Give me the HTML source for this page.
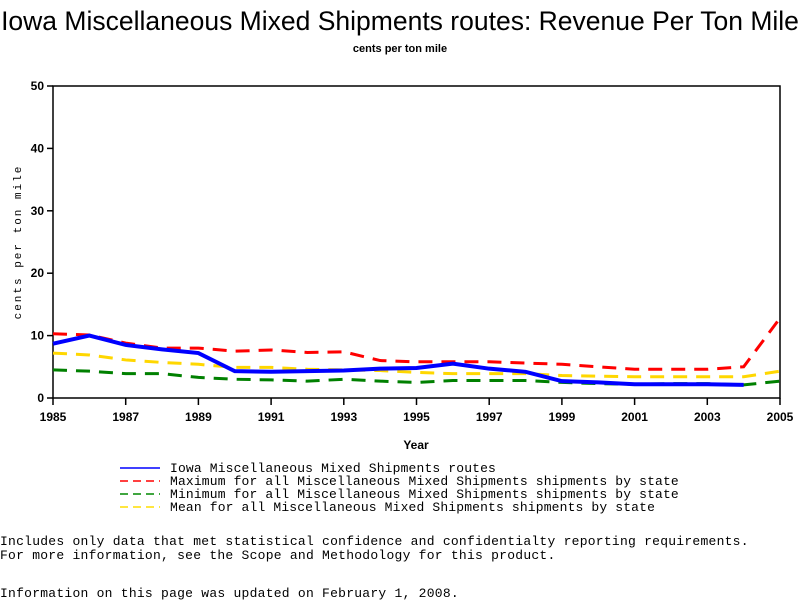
<!DOCTYPE html>
<html><head><meta charset="utf-8">
<style>
body{margin:0;background:#fff;width:800px;height:600px;overflow:hidden;position:relative;font-family:"Liberation Sans",sans-serif}
.mono{font-family:"Liberation Mono",monospace;font-size:13px;position:absolute;left:0;white-space:pre;color:#000;letter-spacing:0.25px}
</style></head><body>
<svg id="chart" width="800" height="600" style="position:absolute;left:0;top:0">
<text x="400" y="30" text-anchor="middle" font-size="26.5" font-family="Liberation Sans, sans-serif">Iowa Miscellaneous Mixed Shipments routes: Revenue Per Ton Mile</text>
<text x="400" y="52" text-anchor="middle" font-size="11" font-weight="bold" font-family="Liberation Sans, sans-serif">cents per ton mile</text>
<rect x="53" y="86" width="727" height="312" fill="none" stroke="#000" stroke-width="1.5"/>
<text transform="translate(21,242) rotate(-90)" text-anchor="middle" font-size="11" letter-spacing="2" font-family="Liberation Mono, monospace">cents per ton mile</text>
<text x="416" y="449" text-anchor="middle" font-size="12" font-weight="bold" font-family="Liberation Sans, sans-serif">Year</text>
<g id="axes"></g>
<g id="series"></g>
</svg>
<div style="position:absolute;left:118px;top:460px">
<svg width="600" height="56">
<line x1="2" y1="8" x2="42" y2="8" stroke="#00f" stroke-width="1.5"/>
<line x1="2" y1="21" x2="42" y2="21" stroke="#f00" stroke-width="1.5" stroke-dasharray="8,5"/>
<line x1="2" y1="34" x2="42" y2="34" stroke="#080" stroke-width="1.5" stroke-dasharray="8,5"/>
<line x1="2" y1="47" x2="42" y2="47" stroke="#fd0" stroke-width="1.5" stroke-dasharray="8,5"/>
<g font-family="Liberation Mono, monospace" font-size="13" letter-spacing="0.15">
<text x="52" y="12">Iowa Miscellaneous Mixed Shipments routes</text>
<text x="52" y="25">Maximum for all Miscellaneous Mixed Shipments shipments by state</text>
<text x="52" y="38">Minimum for all Miscellaneous Mixed Shipments shipments by state</text>
<text x="52" y="51">Mean for all Miscellaneous Mixed Shipments shipments by state</text>
</g></svg></div>
<div class="mono" style="top:535px;line-height:14px">Includes only data that met statistical confidence and confidentialty reporting requirements.
For more information, see the Scope and Methodology for this product.</div>
<div class="mono" style="top:586px">Information on this page was updated on February 1, 2008.</div>
<script>
const years=[1985,1986,1987,1988,1989,1990,1991,1992,1993,1994,1995,1996,1997,1998,1999,2000,2001,2002,2003,2004,2005];
const iowa=[8.7,10,8.5,7.8,7.2,4.3,4.2,4.3,4.4,4.7,4.8,5.5,4.7,4.2,2.7,2.5,2.2,2.2,2.2,2.1];
const maxV=[10.3,10.1,8.8,8.0,8.0,7.5,7.7,7.3,7.4,6.0,5.8,5.8,5.8,5.6,5.4,5.0,4.6,4.6,4.6,5.0,12.8];
const minV=[4.5,4.3,3.9,3.9,3.3,3.0,2.9,2.7,3.0,2.7,2.5,2.8,2.8,2.8,2.5,2.3,2.2,2.3,2.3,2.1,2.7];
const meanV=[7.2,6.9,6.1,5.7,5.4,4.9,4.9,4.6,4.5,4.4,4.1,3.9,3.9,3.9,3.6,3.5,3.4,3.4,3.4,3.4,4.3];
const yTicks=[0,10,20,30,40,50];
const xTicks=[1985,1987,1989,1991,1993,1995,1997,1999,2001,2003,2005];
const NS="http://www.w3.org/2000/svg";
const X=y=>53+(y-1985)*(727/20);
const Y=v=>398-v*6.24;
const axes=document.getElementById('axes'),ser=document.getElementById('series');
function mk(tag,attrs,parent){const e=document.createElementNS(NS,tag);for(const k in attrs)e.setAttribute(k,attrs[k]);parent.appendChild(e);return e;}
yTicks.forEach(t=>{
 const l=mk('line',{x1:47,x2:53,y1:Y(t),y2:Y(t),stroke:'#000','stroke-width':1.5},axes);
 
 
 const tx=mk('text',{x:44,y:Y(t)+4,'text-anchor':'end','font-size':12,'font-weight':'bold','font-family':'Liberation Sans, sans-serif'},axes);
 tx.textContent=t;
 
 
});
xTicks.forEach(t=>{
 const l=mk('line',{x1:X(t),x2:X(t),y1:398,y2:405,stroke:'#000','stroke-width':1.5},axes);
 
 
 const tx=mk('text',{x:X(t),y:421,'text-anchor':'middle','font-size':12,'font-weight':'bold','font-family':'Liberation Sans, sans-serif'},axes);
 tx.textContent=t;
 
 
});
function line(vals,color,w,dash,name){
 const pts=vals.map((v,i)=>X(years[i])+','+Y(v)).join(' ');
 const p=mk('polyline',{points:pts,fill:'none',stroke:color,'stroke-width':w},ser);
 if(dash)p.setAttribute('stroke-dasharray',dash);
 
 
}
line(minV,'#008000',3,'14,9','min-line');
line(meanV,'#ffd700',3,'14,9','mean-line');
line(maxV,'#ff0000',3,'14,9','max-line');
line(iowa,'#0000ff',4,null,'iowa-line');
</script>
</body></html>
